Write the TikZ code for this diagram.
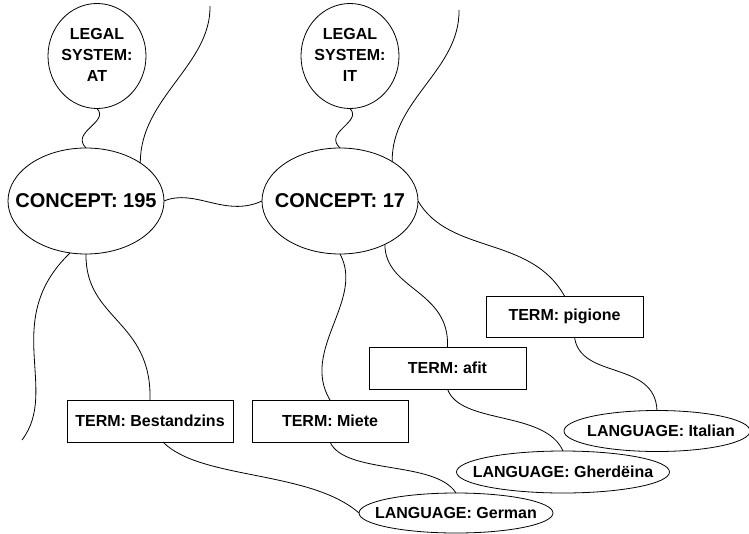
\documentclass[tikz,border=0pt]{standalone}
\usepackage{fontspec}
\setmainfont{Liberation Sans}
\usetikzlibrary{shapes.geometric}
\begin{document}
\begin{tikzpicture}[x=1pt,y=-1pt,
  every node/.style={inner sep=0pt, outer sep=0pt, font=\bfseries\fontsize{16}{21}\selectfont},
  ell/.style={draw, ellipse, line width=0.8pt},
  box/.style={draw, rectangle, line width=0.8pt},
  bigfont/.style={font=\bfseries\fontsize{20}{24}\selectfont},
  conn/.style={line width=0.8pt}]
\useasboundingbox (0,0) rectangle (749,533);

% legal systems
\node[ell, minimum width=98pt, minimum height=105pt] (lsat) at (97,56)
  {\makebox[0pt]{\begin{tabular}{@{}c@{}}LEGAL\\SYSTEM:\\AT\end{tabular}}};
\node[ell, minimum width=98pt, minimum height=105pt] (lsit) at (350,56)
  {\makebox[0pt]{\begin{tabular}{@{}c@{}}LEGAL\\SYSTEM:\\IT\end{tabular}}};

% concepts
\node[ell, bigfont, minimum width=156pt, minimum height=106pt] (c195) at (86,201)
  {\makebox[0pt]{CONCEPT: 195}};
\node[ell, bigfont, minimum width=156pt, minimum height=106pt] (c17) at (340,201)
  {\makebox[0pt]{CONCEPT: 17}};

% terms
\node[box, minimum width=166pt, minimum height=42pt] (bz) at (150,421) {TERM: Bestandzins};
\node[box, minimum width=156pt, minimum height=42pt] (mi) at (330,421) {TERM: Miete};
\node[box, minimum width=157pt, minimum height=42pt] (af) at (447.5,368) {TERM: afit};
\node[box, minimum width=157pt, minimum height=41pt] (pg) at (564.5,316.5) {TERM: pigione};

% languages
\node[ell, minimum width=186pt, minimum height=41pt] (it) at (657,431)
  {\makebox[0pt]{\hspace{8pt}LANGUAGE: Italian}};
\node[ell, minimum width=213pt, minimum height=42pt] (gh) at (563,472)
  {\makebox[0pt]{LANGUAGE: Gherdëina}};
\node[ell, minimum width=194pt, minimum height=40pt] (de) at (456,513)
  {\makebox[0pt]{LANGUAGE: German}};

% free ends
\coordinate (topA) at (210,6);
\coordinate (topB) at (459,10);
\coordinate (botL) at (22,440);

% connectors
\draw[conn] (lsat.south) .. controls (110,122) and (70,132) .. (c195.north);
\draw[conn] (lsit.south) .. controls (363,122) and (323,132) .. (c17.north);
\draw[conn] (topA) .. controls (211,65) and (140,98) .. (c195.35);
\draw[conn] (topB) .. controls (460,70) and (391,100) .. (c17.37);
\draw[conn] (c195.east) .. controls (195,188) and (225,218) .. (c17.west);
\draw[conn] (c195.253) .. controls (0,320) and (60,390) .. (botL);
\draw[conn] (c195.south) .. controls (85,320) and (152,320) .. (bz.north);
\draw[conn] ([xshift=13pt]bz.south) .. controls (200,480) and (310,470) .. (de.west);
\draw[conn] (c17.south) .. controls (365,300) and (300,350) .. (mi.north);
\draw[conn] (mi.south) .. controls (345,475) and (435,460) .. (de.north);
\draw[conn] (c17.-44) .. controls (385,290) and (450,290) .. (af.north);
\draw[conn] (af.south) .. controls (460,425) and (545,410) .. (gh.north);
\draw[conn] (c17.east) .. controls (450,255) and (530,235) .. (pg.north);
\draw[conn] ([xshift=10pt]pg.south) .. controls (580,380) and (655,360) .. (it.north);
\end{tikzpicture}
\end{document}
